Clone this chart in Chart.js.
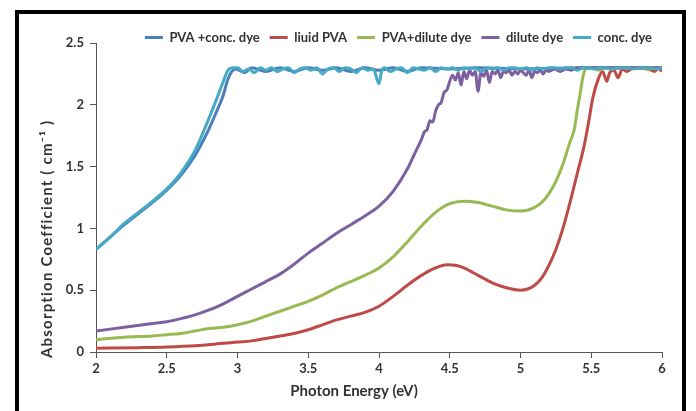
<!DOCTYPE html>
<html>
<head>
<meta charset="utf-8">
<script src="https://cdn.jsdelivr.net/npm/chart.js@4.4.1/dist/chart.umd.min.js"></script>
<style>
  html, body { margin: 0; padding: 0; background: #fff; width: 696px; height: 411px; overflow: hidden; }
  #frame { position: absolute; left: 15px; top: 10px; width: 671px; height: 430px; border: 4px solid #000; box-sizing: border-box; }
  #c { position: absolute; left: 0; top: 0; }
</style>
</head>
<body>
<div id="frame"></div>
<canvas id="c" width="696" height="411"></canvas>
<script>
// ---- Data (Photon Energy eV, Absorption Coefficient) ----
const seriesNames = ["PVA +conc. dye", "liuid PVA", "PVA+dilute dye", "dilute dye", "conc. dye"];
const seriesColors = ["#4A7EBB", "#BE4B48", "#98B954", "#7D60A0", "#46AAC5"];

const xTicks = [2, 2.5, 3, 3.5, 4, 4.5, 5, 5.5, 6];
const yTicks = [0, 0.5, 1, 1.5, 2, 2.5];
const xTitle = "Photon Energy (eV)";
const yTitle = "Absorption Coefficient ( cm\u207B\u00B9 )";

const pvaConcDye = [
  [2.00,0.83],[2.10,0.93],[2.20,1.03],[2.30,1.12],[2.40,1.21],[2.50,1.31],[2.60,1.43],[2.70,1.59],
  [2.78,1.76],[2.85,1.94],[2.90,2.08],[2.93,2.20],[2.96,2.27],[2.99,2.29],[3.05,2.26],[3.10,2.30],
  [3.20,2.27],[3.30,2.30],[3.40,2.27],[3.50,2.30],[3.60,2.28],[3.70,2.30],[3.80,2.27],[3.90,2.30],
  [4.00,2.28],[4.10,2.30],[4.20,2.27],[4.30,2.30],[4.50,2.29],[4.70,2.30],[5.00,2.29],[5.50,2.30],[6.00,2.30]
];

const liuidPVA = [
  [2.00,0.030],[2.30,0.035],[2.50,0.040],[2.70,0.050],[2.90,0.070],[3.00,0.080],[3.10,0.090],[3.20,0.110],
  [3.30,0.130],[3.40,0.150],[3.50,0.180],[3.60,0.220],[3.70,0.260],[3.80,0.290],[3.90,0.320],[4.00,0.370],
  [4.10,0.450],[4.20,0.540],[4.30,0.620],[4.40,0.680],[4.48,0.705],[4.55,0.700],[4.60,0.680],[4.70,0.620],
  [4.80,0.560],[4.90,0.520],[5.00,0.500],[5.05,0.510],[5.10,0.540],[5.15,0.600],[5.20,0.700],[5.25,0.830],
  [5.30,1.000],[5.35,1.210],[5.40,1.440],[5.45,1.670],[5.48,1.850],[5.51,2.050],[5.55,2.210],[5.58,2.270],
  [5.61,2.190],[5.63,2.260],[5.66,2.280],[5.69,2.220],[5.72,2.290],[5.75,2.270],[5.80,2.300],[5.90,2.290],
  [5.95,2.270],[5.97,2.300],[6.00,2.270]
];

const pvaDiluteDye = [
  [2.00,0.10],[2.20,0.12],[2.40,0.13],[2.50,0.14],[2.60,0.15],[2.70,0.17],[2.80,0.19],[2.90,0.20],
  [3.00,0.22],[3.10,0.25],[3.20,0.29],[3.30,0.33],[3.40,0.37],[3.50,0.41],[3.60,0.46],[3.70,0.52],
  [3.80,0.57],[3.90,0.62],[4.00,0.68],[4.10,0.77],[4.20,0.89],[4.30,1.02],[4.40,1.13],[4.50,1.20],
  [4.60,1.22],[4.70,1.21],[4.80,1.18],[4.90,1.15],[5.00,1.14],[5.10,1.17],[5.15,1.21],[5.20,1.28],
  [5.25,1.38],[5.30,1.52],[5.35,1.70],[5.38,1.80],[5.40,1.95],[5.42,2.08],[5.44,2.22],[5.46,2.29],
  [5.50,2.30],[5.55,2.28],[5.60,2.30],[5.65,2.29],[5.70,2.30],[5.80,2.30],[5.90,2.29],[6.00,2.30]
];

const diluteDye = [
  [2.00,0.17],[2.20,0.20],[2.40,0.23],[2.50,0.245],[2.60,0.27],[2.70,0.30],[2.80,0.34],[2.90,0.39],
  [3.00,0.45],[3.10,0.51],[3.20,0.57],[3.30,0.63],[3.40,0.71],[3.50,0.80],[3.60,0.88],[3.70,0.96],
  [3.80,1.03],[3.90,1.10],[4.00,1.18],[4.10,1.30],[4.20,1.48],[4.25,1.60],[4.30,1.72],[4.32,1.78],
  [4.34,1.80],[4.36,1.87],[4.38,1.86],[4.40,1.95],[4.42,2.00],[4.44,2.02],[4.46,2.10],[4.48,2.12],
  [4.50,2.19],[4.52,2.24],[4.54,2.20],[4.56,2.26],[4.58,2.16],[4.60,2.27],[4.62,2.21],[4.64,2.28],
  [4.66,2.24],[4.68,2.27],[4.70,2.11],[4.72,2.26],[4.74,2.23],[4.76,2.28],[4.78,2.18],[4.80,2.27],
  [4.82,2.25],[4.84,2.28],[4.86,2.22],[4.88,2.27],[4.90,2.26],[4.92,2.28],[4.94,2.24],[4.96,2.27],
  [4.98,2.25],[5.00,2.28],[5.02,2.26],[5.04,2.24],[5.06,2.28],[5.08,2.22],[5.10,2.27],[5.12,2.26],
  [5.14,2.28],[5.16,2.25],[5.18,2.28],[5.20,2.27],[5.24,2.29],[5.28,2.27],[5.32,2.29],[5.36,2.28],
  [5.40,2.30],[5.50,2.30],[6.00,2.30]
];

const concDye = [
  [2.00,0.83],[2.10,0.93],[2.20,1.04],[2.30,1.13],[2.40,1.22],[2.50,1.32],[2.60,1.45],[2.70,1.63],
  [2.78,1.84],[2.85,2.04],[2.89,2.16],[2.92,2.25],[2.94,2.29],[2.97,2.30],
  [3.00,2.30],[3.04,2.27],[3.08,2.29],[3.12,2.26],[3.16,2.30],[3.20,2.28],[3.24,2.30],[3.28,2.27],
  [3.32,2.29],[3.36,2.30],[3.40,2.26],[3.44,2.29],[3.48,2.30],[3.52,2.28],[3.56,2.30],[3.60,2.25],
  [3.64,2.29],[3.68,2.30],[3.72,2.27],[3.76,2.30],[3.80,2.29],[3.84,2.26],[3.88,2.30],[3.92,2.28],
  [3.96,2.29],[4.00,2.17],[4.02,2.28],[4.04,2.30],[4.08,2.27],[4.12,2.29],[4.16,2.30],[4.20,2.26],
  [4.24,2.30],[4.28,2.29],[4.32,2.28],[4.36,2.30],[4.40,2.27],[4.44,2.30],[4.48,2.29],[4.52,2.30],
  [4.56,2.28],[4.60,2.30],[4.64,2.29],[4.68,2.30],[4.72,2.27],[4.76,2.30],[4.80,2.29],[4.84,2.30],
  [4.88,2.28],[4.92,2.30],[4.96,2.30],[5.00,2.29],[5.04,2.30],[5.08,2.28],[5.12,2.30],[5.16,2.29],
  [5.20,2.30],[5.24,2.30],[5.28,2.29],[5.32,2.30],[5.36,2.30],[5.40,2.28],[5.44,2.30],[5.48,2.30],
  [5.52,2.29],[5.56,2.30],[5.60,2.30],[5.64,2.29],[5.68,2.30],[5.72,2.30],[5.76,2.30],[5.80,2.29],
  [5.84,2.30],[5.88,2.30],[5.92,2.30],[5.96,2.29],[6.00,2.30]
];

const seriesData = [pvaConcDye, liuidPVA, pvaDiluteDye, diluteDye, concDye];
const drawOrder = [5, 4, 3, 2, 1]; // later series drawn on top

const FONT = "Lato, 'Open Sans', sans-serif";
const TEXT = "#333333";
const AXIS = "#555555";

const datasets = seriesNames.map((name, i) => ({
  label: name,
  data: seriesData[i].map(p => ({ x: p[0], y: p[1] })),
  borderColor: seriesColors[i],
  backgroundColor: seriesColors[i],
  borderWidth: 3,
  pointRadius: 0,
  pointHoverRadius: 0,
  cubicInterpolationMode: 'monotone',
  order: drawOrder[i]
}));

// Moves the legend down toward the plot, and draws both axis titles.
const layoutTweaks = {
  id: 'layoutTweaks',
  afterLayout(chart) {
    const lg = chart.legend;
    if (lg) { lg.top += 11; lg.bottom += 11; }
  },
  afterDraw(chart) {
    const ctx = chart.ctx;
    const area = chart.chartArea;
    ctx.save();
    ctx.fillStyle = TEXT;
    ctx.font = "bold 15px " + FONT;
    ctx.textAlign = 'center';
    ctx.textBaseline = 'middle';
    ctx.fillText(xTitle, 354, 391);
    ctx.restore();

    ctx.save();
    ctx.fillStyle = TEXT;
    ctx.font = "bold 15px " + FONT;
    if ('letterSpacing' in ctx) ctx.letterSpacing = '1.2px';
    ctx.translate(47, area.bottom + 6);
    ctx.rotate(-Math.PI / 2);
    ctx.textAlign = 'left';
    ctx.textBaseline = 'middle';
    ctx.fillText(yTitle, 0, 0);
    ctx.restore();
  }
};

new Chart(document.getElementById('c'), {
  type: 'line',
  data: { datasets },
  plugins: [layoutTweaks],
  options: {
    responsive: false,
    animation: false,
    devicePixelRatio: 1,
    layout: { padding: { left: 30, right: 34, top: 10, bottom: 8 } },
    plugins: {
      tooltip: { enabled: false },
      legend: {
        display: true,
        position: 'top',
        align: 'end',
        labels: {
          sort: (a, b) => a.datasetIndex - b.datasetIndex,
          usePointStyle: true,
          pointStyle: 'line',
          pointStyleWidth: 18,
          boxHeight: 10,
          padding: 10,
          color: TEXT,
          font: { family: FONT, size: 13, weight: 'bold' }
        }
      }
    },
    scales: {
      x: {
        type: 'linear',
        min: 2, max: 6,
        afterBuildTicks: s => { s.ticks = xTicks.map(v => ({ value: v })); },
        afterFit: s => { s.height = 51; },
        grid: { display: true, drawOnChartArea: false, drawTicks: true, tickLength: 6, color: AXIS, lineWidth: 1 },
        border: { display: true, color: AXIS, width: 1 },
        ticks: { color: TEXT, padding: 3, maxRotation: 0, callback: v => String(v), font: { family: FONT, size: 13, weight: 'bold' } },
        title: { display: false }
      },
      y: {
        type: 'linear',
        min: 0, max: 2.5,
        afterBuildTicks: s => { s.ticks = yTicks.map(v => ({ value: v })); },
        afterFit: s => { s.width = 66; },
        grid: { display: true, drawOnChartArea: false, drawTicks: true, tickLength: 6, color: AXIS, lineWidth: 1 },
        border: { display: true, color: AXIS, width: 1 },
        ticks: { color: TEXT, padding: 6, callback: v => String(v), font: { family: FONT, size: 13, weight: 'bold' } },
        title: { display: false }
      }
    }
  }
});
</script>
</body>
</html>
